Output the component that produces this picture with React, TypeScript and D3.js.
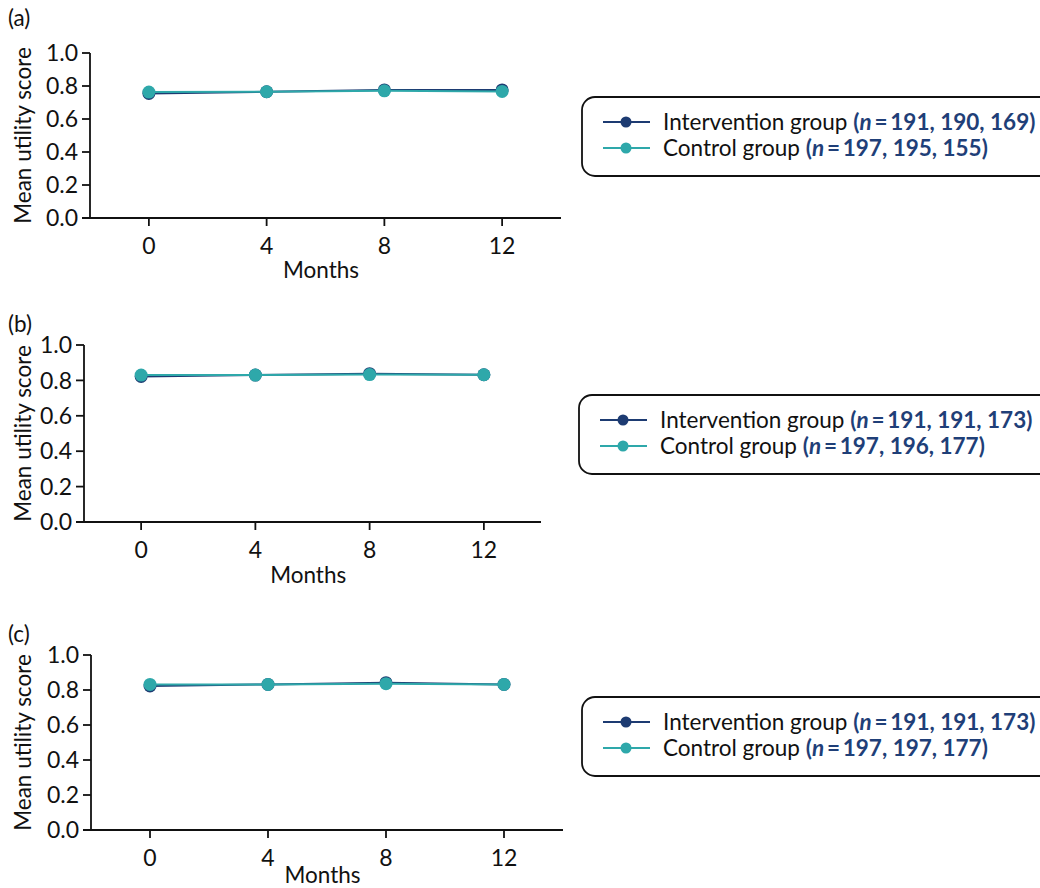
import React from "react";
import * as d3 from "d3";

const months = [0, 4, 8, 12];
const yTicks = [0, 0.2, 0.4, 0.6, 0.8, 1.0];
const xTicks = [0, 4, 8, 12];

const interventionA = [0.755, 0.765, 0.776, 0.776];
const controlA = [0.763, 0.765, 0.771, 0.767];
const interventionB = [0.822, 0.83, 0.838, 0.832];
const controlB = [0.83, 0.83, 0.833, 0.832];
const interventionC = [0.823, 0.832, 0.842, 0.832];
const controlC = [0.832, 0.832, 0.836, 0.832];

const nIntA = "191, 190, 169";
const nCtlA = "197, 195, 155";
const nIntB = "191, 191, 173";
const nCtlB = "197, 196, 177";
const nIntC = "191, 191, 173";
const nCtlC = "197, 197, 177";

const INT_COLOR = "#1d3b72";
const CTL_COLOR = "#2ea8aa";
const N_COLOR = "#1f3f78";
const FONT = "Lato, 'Open Sans', sans-serif";

type PanelCfg = {
  label: string;
  labelY: number;
  top: number;
  bottom: number;
  left: number;
  right: number;
  monthsDy: number;
  inter: number[];
  ctrl: number[];
  nInt: string;
  nCtl: string;
  legX: number;
  legY: number;
};

const panels: PanelCfg[] = [
  { label: "(a)", labelY: 26, top: 53, bottom: 218, left: 90, right: 561, monthsDy: 60, inter: interventionA, ctrl: controlA, nInt: nIntA, nCtl: nCtlA, legX: 582, legY: 97 },
  { label: "(b)", labelY: 332, top: 345, bottom: 522, left: 84, right: 541, monthsDy: 61, inter: interventionB, ctrl: controlB, nInt: nIntB, nCtl: nCtlB, legX: 579, legY: 395 },
  { label: "(c)", labelY: 642, top: 655, bottom: 830, left: 91, right: 563, monthsDy: 53, inter: interventionC, ctrl: controlC, nInt: nIntC, nCtl: nCtlC, legX: 582, legY: 697 },
];

function Panel({ p }: { p: PanelCfg }) {
  const x = d3.scaleLinear().domain([-2, 14]).range([p.left, p.right]);
  const y = d3.scaleLinear().domain([0, 1]).range([p.bottom, p.top]);
  const line = d3
    .line<number>()
    .x((_, i) => x(months[i]))
    .y((d) => y(d));
  const series = [
    { vals: p.inter, color: INT_COLOR },
    { vals: p.ctrl, color: CTL_COLOR },
  ];
  const midY = (p.top + p.bottom) / 2;
  const rowH = 26;
  return (
    <g>
      <text x={8} y={p.labelY} fontSize={22.5} fontFamily={FONT} fill="#111">
        {p.label}
      </text>
      <text
        transform={`translate(31,${midY}) rotate(-90)`}
        textAnchor="middle"
        fontSize={22.5}
        fontFamily={FONT}
        fill="#111"
      >
        Mean utility score
      </text>
      {/* y axis */}
      <line x1={p.left} x2={p.left} y1={p.top} y2={p.bottom} stroke="#111" strokeWidth={1.8} />
      {yTicks.map((t) => (
        <g key={t}>
          <line x1={p.left - 8} x2={p.left} y1={y(t)} y2={y(t)} stroke="#111" strokeWidth={1.8} />
          <text x={p.left - 12} y={y(t)} dy="0.36em" textAnchor="end" fontSize={23} fontFamily={FONT} fill="#111">
            {t.toFixed(1)}
          </text>
        </g>
      ))}
      {/* x axis */}
      <line x1={p.left - 8} x2={p.right} y1={p.bottom} y2={p.bottom} stroke="#111" strokeWidth={1.8} />
      {xTicks.map((t) => (
        <g key={t}>
          <line x1={x(t)} x2={x(t)} y1={p.bottom} y2={p.bottom + 8} stroke="#111" strokeWidth={1.8} />
          <text x={x(t)} y={p.bottom + 36} textAnchor="middle" fontSize={23} fontFamily={FONT} fill="#111">
            {t}
          </text>
        </g>
      ))}
      <text x={x(5.85)} y={p.bottom + p.monthsDy} textAnchor="middle" fontSize={22.5} fontFamily={FONT} fill="#111">
        Months
      </text>
      {/* series */}
      {series.map((s, si) => (
        <g key={si}>
          <path d={line(s.vals) || ""} fill="none" stroke={s.color} strokeWidth={2} />
          {s.vals.map((v, i) => (
            <circle key={i} cx={x(months[i])} cy={y(v)} r={6.5} fill={s.color} />
          ))}
        </g>
      ))}
      {/* legend */}
      <rect x={p.legX} y={p.legY} width={480} height={79} rx={13} ry={13} fill="none" stroke="#111" strokeWidth={1.8} />
      {[
        { color: INT_COLOR, name: "Intervention group ", n: p.nInt },
        { color: CTL_COLOR, name: "Control group ", n: p.nCtl },
      ].map((r, i) => {
        const cy = p.legY + 25 + i * rowH;
        return (
          <g key={i}>
            <line x1={p.legX + 21} x2={p.legX + 68} y1={cy} y2={cy} stroke={r.color} strokeWidth={2} />
            <circle cx={p.legX + 44} cy={cy} r={5.5} fill={r.color} />
            <text x={p.legX + 81} y={cy} dy="0.35em" fontSize={22.5} fontFamily={FONT} fill="#111">
              {r.name}
              <tspan fill={N_COLOR} fontWeight="bold">
                (<tspan fontStyle="italic">n</tspan>
                {"\u2009=\u2009"}
                {r.n})
              </tspan>
            </text>
          </g>
        );
      })}
    </g>
  );
}

export default function App() {
  return (
    <svg
      width={1040}
      height={888}
      style={{ position: "absolute", left: 0, top: 0, background: "#fff" }}
    >
      <rect width={1040} height={888} fill="#fff" />
      {panels.map((p) => (
        <Panel key={p.label} p={p} />
      ))}
    </svg>
  );
}
